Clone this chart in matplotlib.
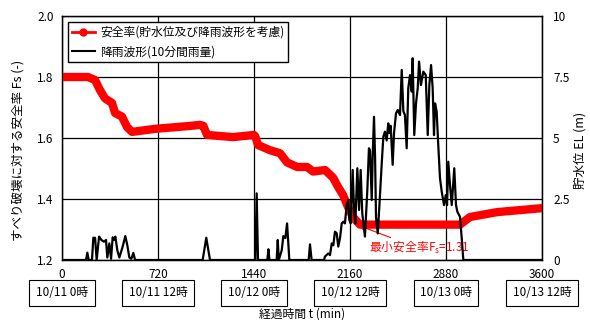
import matplotlib
matplotlib.use("Agg")
import matplotlib.pyplot as plt
from matplotlib.lines import Line2D
import matplotlib.transforms as mtransforms

plt.rcParams['font.family'] = ['Noto Sans CJK JP', 'DejaVu Sans']
plt.rcParams['mathtext.fontset'] = 'custom'
plt.rcParams['mathtext.rm'] = 'Noto Sans CJK JP'

# safety factor (left axis)
fs_t = [0, 195, 248, 285, 322, 375, 398, 450, 488, 525, 698, 945, 1035, 1060,
        1088, 1283, 1440, 1450, 1470, 1560, 1635, 1688, 1763, 1838, 1883, 1973,
        2033, 2070, 2108, 2145, 2183, 2235, 2985, 3060, 3263, 3600]
fs_v = [1.80, 1.80, 1.79, 1.757, 1.73, 1.715, 1.682, 1.67, 1.636, 1.62, 1.63,
        1.639, 1.643, 1.64, 1.61, 1.603, 1.61, 1.605, 1.577, 1.56, 1.55, 1.52,
        1.505, 1.505, 1.49, 1.495, 1.47, 1.44, 1.413, 1.374, 1.34, 1.316, 1.316,
        1.341, 1.357, 1.37]

# rainfall wave (right axis)
rain_t = [0, 180, 190, 200, 225, 235, 248, 260, 278, 296, 315, 330, 340, 355,
          368, 380, 390, 400, 415, 430, 455, 475, 490, 505, 520, 535, 548, 1055,
          1082, 1110, 1450, 1460, 1470, 1540, 1548, 1556, 1610, 1618, 1626, 1648,
          1660, 1675, 1688, 1705, 1850, 1860, 1872, 1965, 1972, 1997, 2010, 2023,
          2035, 2047, 2060, 2072, 2085, 2098, 2110, 2122, 2135, 2147, 2155, 2165,
          2180, 2190, 2200, 2215, 2228, 2240, 2252, 2272, 2290, 2302, 2310, 2323,
          2330, 2340, 2348, 2355, 2368, 2380, 2398, 2410, 2422, 2435, 2447, 2456,
          2465, 2480, 2490, 2505, 2518, 2535, 2548, 2560, 2572, 2585, 2597, 2610,
          2623, 2630, 2642, 2655, 2668, 2678, 2692, 2710, 2728, 2743, 2755, 2768,
          2780, 2790, 2798, 2810, 2822, 2835, 2848, 2865, 2878, 2888, 2897, 2910,
          2923, 2942, 2955, 2965, 2985, 2998, 3010, 3600]
rain_v = [0, 0, 0.3, 0, 0, 0.91, 0.91, 0, 0.96, 0.82, 0.75, 0.82, 0.1, 0.68,
          0.05, 0.93, 0.82, 0.96, 0.4, 0.1, 0.55, 0.98, 0.6, 0.1, 0.05, 0.29, 0, 0,
          0.91, 0, 0, 2.73, 0, 0, 0.44, 0, 0, 0.82, 0, 0.4,
          0.98, 0.9, 1.5, 0, 0, 0.64, 0, 0, 0.14, 0.27, 0.2, 0.68,
          0.6, 1.16, 1.1, 0.55, 0.9, 1.5, 1.57, 1.5, 2.25, 2.46, 1.64, 1.5,
          3.69, 2.1, 1.5, 3.76, 2.05, 3.69, 1.91, 0.96, 2.87, 4.58, 4.5, 2.46,
          4.23, 5.87, 4.23, 1.77, 1.09, 2.18, 3.96, 5.05, 5.26, 4.9, 5.6, 5.2,
          5.5, 3.9, 5.19, 6.01, 6.15, 5.94, 7.79, 6.1, 5.94, 4.58, 7.04, 7.58,
          6.9, 8.27, 5.12, 6.42, 7.04, 8.13, 7.17, 7.72, 7.58, 5.12, 7.17, 7.99,
          7.04, 5.12, 6.42, 6.08, 4.71, 3.35, 2.8, 2.25, 2.66, 2.25, 4.03, 3.07,
          2.25, 3.76, 2.25, 1.98, 1.77, 0.89, 0, 0]

x_ticks = [0, 720, 1440, 2160, 2880, 3600]
date_labels = ['10/11 0時', '10/11 12時', '10/12 0時', '10/12 12時', '10/13 0時', '10/13 12時']

fig = plt.figure(figsize=(5.9, 3.2), dpi=100)
ax = fig.add_axes([62 / 590, 1 - 260 / 320, 480 / 590, 244 / 320])

ax.plot(fs_t, fs_v, color='red', lw=6, solid_capstyle='round', solid_joinstyle='round', zorder=3)
ax.set_xlim(0, 3600)
ax.set_ylim(1.2, 2.0)
ax.set_xticks(x_ticks)
ax.set_yticks([1.2, 1.4, 1.6, 1.8, 2.0])
ax.set_yticklabels(['1.2', '1.4', '1.6', '1.8', '2.0'])
ax.grid(True, color='black', lw=0.9)
ax.set_axisbelow(True)
ax.tick_params(length=0, labelsize=8.5, pad=6)
for s in ax.spines.values():
    s.set_linewidth(1.0)

ax2 = ax.twinx()
ax2.plot(rain_t, rain_v, color='black', lw=1.6, zorder=4)
ax2.set_ylim(0, 10)
ax2.set_yticks([0, 2.5, 5, 7.5, 10])
ax2.set_yticklabels(['0', '2.5', '5', '7.5', '10'])
ax2.tick_params(length=0, labelsize=8.5, pad=8)

ax.annotate('最小安全率F$_\\mathregular{s}$=1.31', xy=(2215, 1.315), xytext=(2300, 1.238),
            color='red', fontsize=8.5, ha='left', va='center',
            arrowprops=dict(arrowstyle='->', color='red', lw=0.8, shrinkA=0, shrinkB=1))

handles = [Line2D([], [], color='red', lw=2, marker='o', markersize=5),
           Line2D([], [], color='black', lw=1.5)]
leg = ax2.legend(handles, ['安全率(貯水位及び降雨波形を考慮)', '降雨波形(10分間雨量)'],
                 loc='upper left', bbox_to_anchor=(0.0125, 0.975), fontsize=8.5,
                 fancybox=False, framealpha=1, edgecolor='black', handlelength=2.0,
                 handletextpad=0.4, borderpad=0.3, labelspacing=0.55,
                 borderaxespad=0)
leg.get_frame().set_linewidth(1.0)

trans = mtransforms.blended_transform_factory(ax.transData, ax.transAxes)
for xt, lab in zip(x_ticks, date_labels):
    ax.text(xt, -0.135, lab, transform=trans, ha='center', va='center', fontsize=8.5,
            bbox=dict(boxstyle='square,pad=0.55', fc='white', ec='black', lw=0.8))

fig.text(302 / 590, 1 - 314 / 320, '経過時間 t (min)', ha='center', va='center', fontsize=8.5)
fig.text(18 / 590, 1 - 150 / 320, 'すべり破壊に対する安全率 Fs (-)', rotation=90,
         ha='center', va='center', fontsize=9)
fig.text(580 / 590, 1 - 150 / 320, '貯水位 EL (m)', rotation=90,
         ha='center', va='center', fontsize=9)

fig.savefig('out.png', dpi=100)
